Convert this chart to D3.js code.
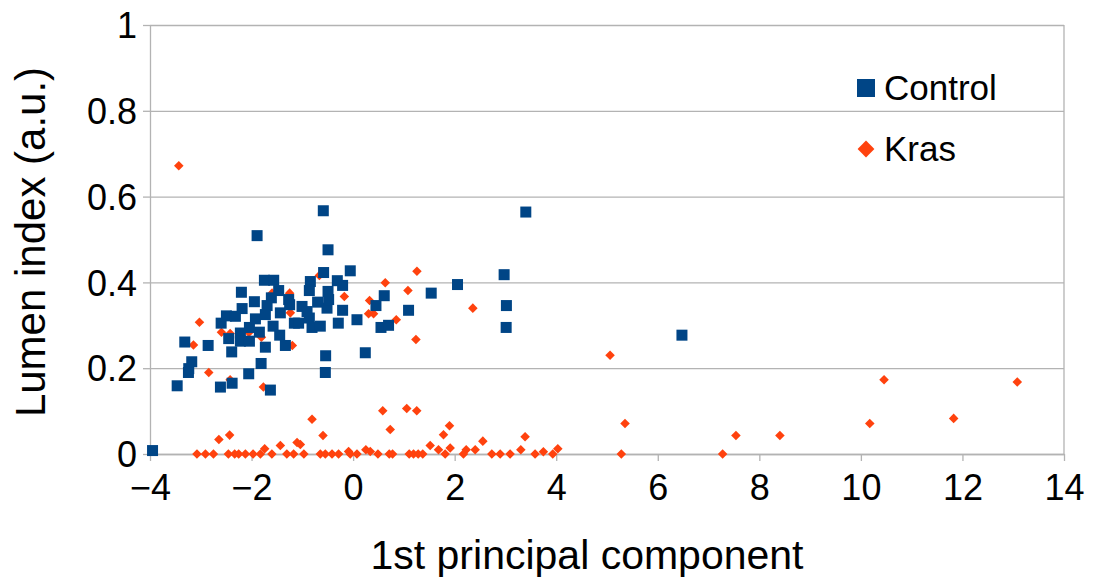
<!DOCTYPE html>
<html>
<head>
<meta charset="utf-8">
<script src="https://cdn.jsdelivr.net/npm/d3@7"></script>
<style>
  body { margin: 0; background: #fff; }
  svg text { font-family: "Liberation Sans", Arial, sans-serif; fill: #000; }
  .grid line { stroke: #b3b3b3; stroke-width: 1.3; }
  .axis path, .axis line { stroke: #b3b3b3; stroke-width: 1.3; }
</style>
</head>
<body>
<svg id="chart"></svg>
<script>
(function() {
    'use strict';

    // series: [x, y]
    var control = [
        [-3.95, 0.008], [-3.465, 0.159], [-3.315, 0.261], [-3.243, 0.190], [-3.237, 0.199],
        [-3.178, 0.215], [-2.855, 0.253], [-2.613, 0.156], [-2.383, 0.165], [-2.056, 0.187],
        [-1.812, 0.211], [-1.728, 0.249], [-1.629, 0.149], [-1.891, 0.509], [-2.200, 0.377],
        [-2.391, 0.238], [-2.450, 0.269], [-2.599, 0.305], [-2.495, 0.322], [-2.318, 0.321],
        [-2.186, 0.339], [-2.220, 0.282], [-2.220, 0.263], [-2.042, 0.263], [-2.042, 0.295],
        [-1.944, 0.355], [-1.924, 0.315], [-1.846, 0.284], [-1.747, 0.405], [-1.564, 0.405],
        [-1.466, 0.381], [-1.610, 0.364], [-1.694, 0.346], [-1.728, 0.325], [-1.576, 0.298],
        [-1.433, 0.329], [-1.446, 0.277], [-1.334, 0.253], [-1.269, 0.360], [-1.250, 0.348],
        [-1.157, 0.305], [-1.073, 0.305], [-1.006, 0.344], [-0.907, 0.332], [-0.862, 0.317],
        [-0.809, 0.295], [-0.646, 0.298], [-0.862, 0.381], [-0.842, 0.402], [-0.699, 0.354],
        [-0.581, 0.423], [-0.514, 0.340], [-0.494, 0.379], [-0.482, 0.360], [-0.494, 0.476],
        [-0.587, 0.567], [-0.541, 0.229], [-0.547, 0.190], [-0.311, 0.404], [-0.292, 0.305],
        [-0.207, 0.393], [-0.056, 0.427], [-0.207, 0.335], [0.076, 0.313], [0.613, 0.369],
        [0.450, 0.346], [0.549, 0.295], [0.698, 0.300], [1.092, 0.335], [1.538, 0.375],
        [2.056, 0.395], [2.974, 0.418], [3.019, 0.346], [3.014, 0.295], [3.401, 0.564],
        [0.240, 0.236], [6.476, 0.277]
    ];

    var kras = [
        [-3.433, 0.672], [-3.026, 0.307], [-3.144, 0.254], [-2.593, 0.284], [-2.422, 0.281],
        [-2.052, 0.283], [-1.806, 0.272], [-2.843, 0.190], [-2.422, 0.173], [-1.767, 0.156],
        [-1.596, 0.375], [-1.250, 0.375], [-1.236, 0.329], [-1.197, 0.253], [-0.665, 0.416],
        [-0.173, 0.367], [0.324, 0.358], [0.305, 0.327], [0.403, 0.327], [0.633, 0.399],
        [1.080, 0.381], [1.257, 0.426], [0.850, 0.313], [1.237, 0.267], [2.358, 0.340],
        [5.060, 0.230], [5.355, 0.071], [10.456, 0.173], [13.080, 0.168], [11.827, 0.083],
        [10.175, 0.071], [7.539, 0.043], [8.405, 0.043], [7.277, 0.0],
        [-2.643, 0.034], [-2.432, 0.044], [-1.741, 0.012], [-1.433, 0.020], [-1.104, 0.027],
        [-1.039, 0.022], [-0.809, 0.081], [-0.593, 0.043], [-0.089, 0.006], [0.251, 0.010],
        [0.338, 0.006], [0.584, 0.101], [0.731, 0.057], [1.056, 0.106], [1.253, 0.101],
        [1.518, 0.020], [1.682, 0.010], [1.780, 0.045], [1.898, 0.066], [1.912, 0.014],
        [2.227, 0.010], [2.404, 0.010], [2.555, 0.030], [3.303, 0.010], [3.387, 0.040],
        [3.747, 0.005], [4.031, 0.012],
        [-3.075, 0], [-2.908, 0], [-2.751, 0], [-2.456, 0], [-2.332, 0], [-2.253, 0],
        [-2.121, 0], [-1.970, 0], [-1.826, 0], [-1.600, 0], [-1.305, 0], [-1.171, 0],
        [-0.970, 0], [-0.646, 0], [-0.547, 0], [-0.415, 0], [-0.286, 0], [-0.056, 0],
        [0.076, 0], [0.489, 0], [0.712, 0], [0.777, 0], [1.105, 0], [1.190, 0],
        [1.282, 0], [1.371, 0], [1.813, 0], [2.173, 0], [2.732, 0], [2.896, 0],
        [3.092, 0], [3.584, 0], [3.932, 0], [5.282, 0]
    ];

    var xTicks = [-4, -2, 0, 2, 4, 6, 8, 10, 12, 14];
    var yTicks = [0, 0.2, 0.4, 0.6, 0.8, 1];
    var seriesNames = ["Control", "Kras"];

    var W = 1098, H = 578,
        margin = {top: 25, right: 34, bottom: 124, left: 150},
        width = W - margin.left - margin.right,
        height = H - margin.top - margin.bottom;

    var svg = d3.select("#chart").attr("width", W).attr("height", H);
    var g = svg.append("g")
        .attr("transform", "translate(" + margin.left + "," + margin.top + ")");

    var x = d3.scaleLinear().domain([-4, 14]).range([0, width]);
    var y = d3.scaleLinear().domain([0, 1]).range([height, 0]);

    // horizontal gridlines
    g.append("g")
        .attr("class", "grid")
        .call(d3.axisLeft(y).tickValues(yTicks).tickSize(-width).tickFormat(""))
        .call(function(s) { s.select(".domain").remove(); });

    // right border
    g.append("line")
        .attr("x1", width).attr("x2", width)
        .attr("y1", 0).attr("y2", height)
        .attr("stroke", "#b3b3b3").attr("stroke-width", 1.3);

    var yAxis = g.append("g")
        .attr("class", "axis y")
        .call(d3.axisLeft(y).tickValues(yTicks).tickSize(7).tickSizeOuter(0)
            .tickFormat(function(d) { return d === 0 || d === 1 ? d : d.toFixed(1); }));
    yAxis.selectAll("text").attr("font-size", 36).attr("x", -13).attr("dy", "0.35em");

    var xAxis = g.append("g")
        .attr("class", "axis x")
        .attr("transform", "translate(0," + height + ")")
        .call(d3.axisBottom(x).tickValues(xTicks).tickSize(7).tickSizeOuter(0));
    xAxis.selectAll("text").attr("font-size", 36).attr("y", 15).attr("dy", "0.85em");

    // Kras first, Control drawn on top
    var diamond = d3.symbol().type(d3.symbolDiamond2).size(58);
    g.append("g").selectAll("path")
        .data(kras)
        .enter().append("path")
        .attr("d", diamond)
        .attr("transform", function(d) { return "translate(" + x(d[0]) + "," + y(d[1]) + ")"; })
        .attr("fill", "#ff420e");

    var sq = 11;
    g.append("g").selectAll("rect")
        .data(control)
        .enter().append("rect")
        .attr("x", function(d) { return x(d[0]) - sq / 2; })
        .attr("y", function(d) { return y(d[1]) - sq / 2; })
        .attr("width", sq).attr("height", sq)
        .attr("fill", "#004586");

    // legend
    var legend = svg.append("g");
    legend.append("rect")
        .attr("x", 857).attr("y", 79).attr("width", 18).attr("height", 18)
        .attr("fill", "#004586");
    legend.append("path")
        .attr("d", d3.symbol().type(d3.symbolDiamond2).size(180))
        .attr("transform", "translate(866,149)")
        .attr("fill", "#ff420e");
    legend.selectAll("text")
        .data(seriesNames)
        .enter().append("text")
        .attr("x", 884)
        .attr("y", function(d, i) { return 88 + i * 61; })
        .attr("dy", "0.35em")
        .attr("font-size", 35)
        .text(function(d) { return d; });

    // axis titles
    svg.append("text")
        .attr("x", 587)
        .attr("y", 569)
        .attr("text-anchor", "middle")
        .attr("font-size", 41)
        .text("1st principal component");

    svg.append("text")
        .attr("transform", "translate(45,242) rotate(-90)")
        .attr("text-anchor", "middle")
        .attr("font-size", 42)
        .text("Lumen index (a.u.)");
})();
</script>
</body>
</html>
